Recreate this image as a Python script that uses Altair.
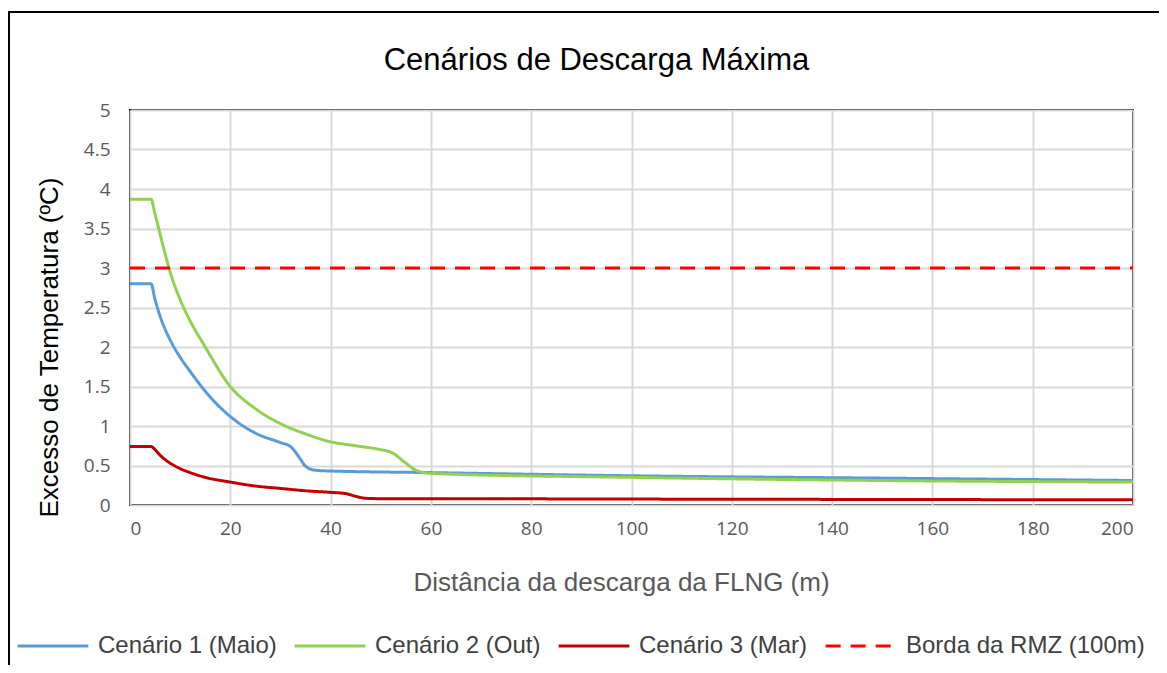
import altair as alt
import pandas as pd

# ---- data ----
series_names = ["Cenário 1 (Maio)", "Cenário 2 (Out)", "Cenário 3 (Mar)", "Borda da RMZ (100m)"]
series_colors = ["#5B9BD5", "#92D050", "#C00000", "#FF0000"]

x_c1 = [0, 4.2, 5, 6, 8, 10, 12, 15, 20, 25, 30, 32, 34, 35, 37, 40, 60, 100, 150, 200]
y_c1 = [2.8, 2.8, 2.6, 2.39, 2.09, 1.87, 1.69, 1.44, 1.12, 0.91, 0.79, 0.74, 0.58, 0.49, 0.44, 0.43, 0.41, 0.37, 0.34, 0.31]

x_c2 = [0, 4.2, 5, 6, 7, 8, 10, 12, 15, 20, 25, 30, 35, 40, 45, 50, 52, 55, 57, 60, 100, 150, 200]
y_c2 = [3.87, 3.87, 3.68, 3.43, 3.18, 2.95, 2.6, 2.33, 2.0, 1.5, 1.22, 1.03, 0.9, 0.8, 0.75, 0.7, 0.67, 0.53, 0.44, 0.4, 0.35, 0.31, 0.29]

x_c3 = [0, 4.2, 5, 6, 8, 10, 12, 15, 20, 25, 30, 35, 40, 43, 45, 47, 50, 60, 100, 150, 200]
y_c3 = [0.74, 0.74, 0.7, 0.63, 0.53, 0.46, 0.41, 0.35, 0.29, 0.24, 0.21, 0.18, 0.16, 0.145, 0.11, 0.085, 0.08, 0.08, 0.075, 0.07, 0.065]

x_rmz = [0, 200]
y_rmz = [3, 3]

x_ticks = [0, 20, 40, 60, 80, 100, 120, 140, 160, 180, 200]
y_ticks = [0, 0.5, 1, 1.5, 2, 2.5, 3, 3.5, 4, 4.5, 5]

rows = []
for name, xs, ys in zip(series_names, [x_c1, x_c2, x_c3, x_rmz], [y_c1, y_c2, y_c3, y_rmz]):
    for i, (xv, yv) in enumerate(zip(xs, ys)):
        rows.append({"serie": name, "x": xv, "y": yv, "ord": i})
df = pd.DataFrame(rows)

lines = alt.Chart(df).mark_line(strokeWidth=3, interpolate="monotone").encode(
    x=alt.X("x:Q", scale=alt.Scale(domain=[0, 200], nice=False),
            axis=alt.Axis(values=x_ticks, format="d", title="Distância da descarga da FLNG (m)",
                          titleX=491, titleY=77, titleBaseline="middle",
                          titleColor="#595959", titleFontSize=26, titleFontWeight="normal",
                          titleFont="Liberation Sans",
                          labelPadding=14)),
    y=alt.Y("y:Q", scale=alt.Scale(domain=[0, 5], nice=False),
            axis=alt.Axis(values=y_ticks, format="~g", title="Excesso de Temperatura (ºC)",
                          titleX=-81, titleY=237, titleBaseline="middle", titleAngle=270,
                          titleColor="#000000", titleFontSize=26, titleFontWeight="normal",
                          titleFont="Liberation Sans",
                          labelPadding=20)),
    color=alt.Color("serie:N", scale=alt.Scale(domain=series_names, range=series_colors),
                    sort=series_names,
                    legend=alt.Legend(title=None, orient="none", legendX=-114, legendY=499,
                                      direction="horizontal", symbolType="stroke",
                                      symbolSize=5000, symbolStrokeWidth=3,
                                      labelFontSize=24, labelFont="Liberation Sans",
                                      labelColor="#404040", labelLimit=400,
                                      labelOffset=8, columnPadding=11)),
    strokeDash=alt.StrokeDash("serie:N", scale=alt.Scale(domain=series_names,
                                                         range=[[1, 0], [1, 0], [1, 0], [15, 10]]),
                              sort=series_names, legend=alt.Legend(title=None)),
    order="ord:Q",
)

frame_df = pd.DataFrame({"k": [0]})
outer = alt.Chart(frame_df).mark_rect(filled=False, stroke="#000000", strokeWidth=2, clip=False).encode(
    x=alt.value(-121), x2=alt.value(1200), y=alt.value(-98), y2=alt.value(700)
)

chart = alt.layer(outer, lines).properties(
    width=1003, height=395,
    padding={"left": 122, "top": 102, "right": 26, "bottom": 160},
    autosize=alt.AutoSizeParams(type="none"),
    background="#FFFFFF",
    title=alt.TitleParams("Cenários de Descarga Máxima", font="Liberation Sans", fontSize=31,
                          fontWeight="normal", color="#000000", anchor="middle", frame="group",
                          dx=-35, dy=129, baseline="bottom", offset=32),
).configure_view(stroke="#000000", strokeWidth=2).configure_axis(
    grid=True, gridColor="#D9D9D9", gridWidth=2, domain=False, ticks=False,
    labelFont="Open Sans", labelFontSize=19, labelColor="#595959",
)

chart.save("out.html", embed_options={"renderer": "svg", "actions": False})
